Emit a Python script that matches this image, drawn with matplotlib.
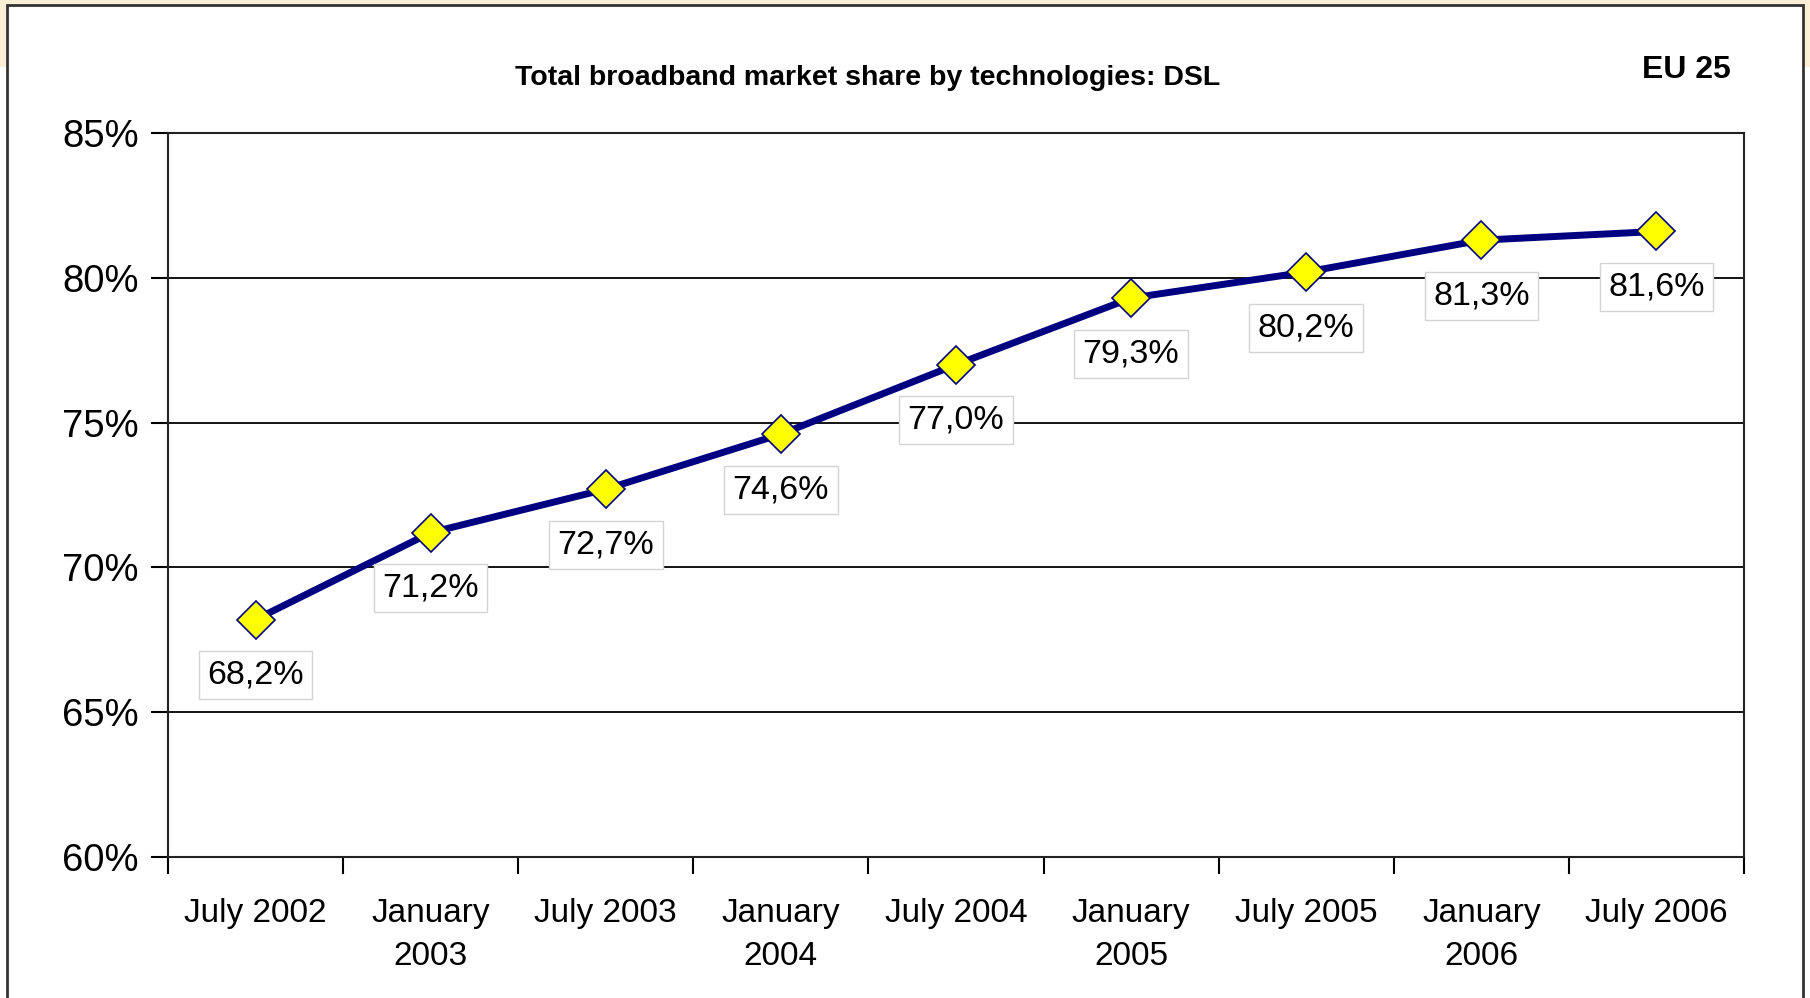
import matplotlib.pyplot as plt
from matplotlib.patches import Rectangle

plt.rcParams['font.family'] = ['Liberation Sans', 'DejaVu Sans']

# data
periods = ['July 2002', 'January\n2003', 'July 2003', 'January\n2004', 'July 2004',
           'January\n2005', 'July 2005', 'January\n2006', 'July 2006']
dsl_share = [68.2, 71.2, 72.7, 74.6, 77.0, 79.3, 80.2, 81.3, 81.6]
y_ticks = [60, 65, 70, 75, 80, 85]

W, H = 1810, 998
fig = plt.figure(figsize=(W / 100, H / 100), dpi=100, facecolor='white')

# orange page background strip + white framed panel
fig.patches.append(Rectangle((0, 1 - 67 / H), 1, 67 / H, transform=fig.transFigure,
                             facecolor='#fdefd6', edgecolor='none', zorder=0))
fig.patches.append(Rectangle((7 / W, -0.05), 1796 / W, 1 - 5 / H + 0.05,
                             transform=fig.transFigure, facecolor='white',
                             edgecolor='#333333', linewidth=2, zorder=1))

ax = fig.add_axes([168 / W, 141 / H, 1576 / W, 724 / H])
ax.set_zorder(2)
x = list(range(len(periods)))
ax.plot(x, dsl_share, color='#000080', linewidth=5, marker='D', markersize=19,
        markerfacecolor='#ffff00', markeredgecolor='#000080', markeredgewidth=1.2,
        zorder=3)

for xi, v in zip(x, dsl_share):
    ax.annotate(f'{v:.1f}%'.replace('.', ','), (xi, v), xytext=(0, -40),
                textcoords='offset points', ha='center', va='center', fontsize=24.5,
                bbox=dict(boxstyle='square,pad=0.25', facecolor='white',
                          edgecolor='#d4d4d4', linewidth=1), zorder=4)

ax.set_xlim(-0.5, len(periods) - 0.5)
ax.set_ylim(60, 85)
ax.set_yticks(y_ticks)
ax.set_yticklabels([f'{t}%' for t in y_ticks])
ax.set_xticks(x)
ax.set_xticklabels(periods)
ax.set_xticks([i - 0.5 for i in range(len(periods) + 1)], minor=True)
ax.tick_params(axis='x', which='major', length=0, pad=29.5, labelsize=24)
ax.tick_params(axis='x', which='minor', length=12, width=1.5, direction='out')
ax.tick_params(axis='y', length=12, width=1.5, direction='out', pad=9, labelsize=27.5)
for t in ax.get_xticklabels():
    t.set_va('top')
    t.set_linespacing(1.5)
ax.grid(axis='y', color='black', linewidth=1.3)
for s in ax.spines.values():
    s.set_linewidth(1.5)
    s.set_color('#222222')

fig.text(868 / W, 1 - 78 / H, 'Total broadband market share by technologies: DSL',
         ha='center', va='center', fontsize=20.5, fontweight='bold')
fig.text(1731 / W, 1 - 70 / H, 'EU 25', ha='right', va='center', fontsize=23,
         fontweight='bold')

fig.savefig('out.png', dpi=100, facecolor=fig.get_facecolor())
